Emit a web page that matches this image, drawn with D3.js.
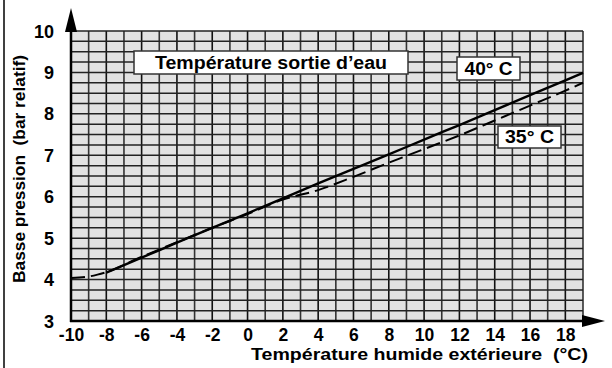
<!DOCTYPE html>
<html>
<head>
<meta charset="utf-8">
<script src="https://cdn.jsdelivr.net/npm/d3@7"></script>
<style>
  body { margin: 0; background: #fff; }
  svg text { font-family: "Liberation Sans", Arial, sans-serif; font-weight: bold; fill: #000; white-space: pre; }
</style>
</head>
<body>
<div id="chart"></div>
<script>
// outdoor wet bulb temperature (°C) / low pressure (bar rel.)
const temps40 = [-8, -6, -4, -2, 0, 2, 4, 6, 8, 10, 12, 14, 16, 18, 19];
const press40 = [4.17, 4.53, 4.89, 5.25, 5.60, 5.96, 6.32, 6.67, 7.02, 7.38, 7.73, 8.09, 8.45, 8.81, 8.99];
const temps35 = [-10, -9.2, -8.5, -8, -6, -4, -2, 0, 2, 4, 6, 8, 10, 12, 14, 16, 18, 19];
const press35 = [4.04, 4.06, 4.12, 4.18, 4.55, 4.90, 5.25, 5.58, 5.93, 6.16, 6.48, 6.82, 7.15, 7.48, 7.84, 8.20, 8.56, 8.75];
const xTicks = [-10, -8, -6, -4, -2, 0, 2, 4, 6, 8, 10, 12, 14, 16, 18];
const yTicks = [3, 4, 5, 6, 7, 8, 9, 10];

const W = 612, H = 368;
const x = d3.scaleLinear().domain([-10, 19]).range([71, 583]);
const y = d3.scaleLinear().domain([3, 10]).range([321, 31]);

const svg = d3.select("#chart").append("svg")
  .attr("width", W)
  .attr("height", H);

// frame line on the left
svg.append("line")
  .attr("x1", 4).attr("x2", 4).attr("y1", 0).attr("y2", H)
  .attr("stroke", "#000").attr("stroke-width", 1.5);

// plot background
svg.append("rect")
  .attr("x", x(-10)).attr("y", y(10))
  .attr("width", x(19) - x(-10)).attr("height", y(3) - y(10))
  .attr("fill", "#e2e2e2");

// grid
const vLines = d3.range(-9, 20);
svg.append("g").selectAll("line")
  .data(vLines)
  .enter().append("line")
  .attr("x1", d => x(d)).attr("x2", d => x(d))
  .attr("y1", y(10)).attr("y2", y(3))
  .attr("stroke", d => d % 2 === 0 ? "#111" : "#333")
  .attr("stroke-width", 1.6);

const hLines = d3.range(3.25, 10.01, 0.25);
svg.append("g").selectAll("line")
  .data(hLines)
  .enter().append("line")
  .attr("x1", x(-10)).attr("x2", x(19))
  .attr("y1", d => y(d)).attr("y2", d => y(d))
  .attr("stroke", "#222")
  .attr("stroke-width", 1.5);

// boxes
function labelBox(x0, y0, w, h, txt, size, baseline, len) {
  svg.append("rect")
    .attr("x", x0).attr("y", y0).attr("width", w).attr("height", h)
    .attr("fill", "#fff").attr("stroke", "#333").attr("stroke-width", 1.5);
  svg.append("text")
    .attr("x", x0 + w / 2).attr("y", baseline)
    .attr("text-anchor", "middle")
    .attr("textLength", len)
    .attr("lengthAdjust", "spacingAndGlyphs")
    .style("font-size", size + "px")
    .text(txt);
}
labelBox(134, 51, 274, 23, "Température sortie d’eau", 18, 69, 232);
labelBox(457, 57, 63, 23, "40° C", 19, 75, 48);
labelBox(498, 126, 63, 22, "35° C", 19, 143, 49);

// curves
const line = d3.line()
  .x(d => x(d[0]))
  .y(d => y(d[1]))
  .curve(d3.curveMonotoneX);

svg.append("path")
  .datum(temps35.map((t, i) => [t, press35[i]]))
  .attr("d", line)
  .attr("fill", "none")
  .attr("stroke", "#000")
  .attr("stroke-width", 2)
  .attr("stroke-dasharray", "14,6");

svg.append("path")
  .datum(temps40.map((t, i) => [t, press40[i]]))
  .attr("d", line)
  .attr("fill", "none")
  .attr("stroke", "#000")
  .attr("stroke-width", 2.4);

// axes lines + arrows
svg.append("line")
  .attr("x1", x(-10)).attr("x2", x(-10)).attr("y1", y(3) + 1).attr("y2", 30)
  .attr("stroke", "#000").attr("stroke-width", 2.5);
svg.append("line")
  .attr("x1", x(-10) - 1).attr("x2", 584).attr("y1", y(3)).attr("y2", y(3))
  .attr("stroke", "#000").attr("stroke-width", 2.5);
svg.append("path")
  .attr("d", "M" + x(-10) + ",8 L" + (x(-10) + 6) + ",32 L" + (x(-10) - 6) + ",32 Z")
  .attr("fill", "#000");
svg.append("path")
  .attr("d", "M605," + y(3) + " L582," + (y(3) - 6) + " L582," + (y(3) + 6) + " Z")
  .attr("fill", "#000");

// tick labels
const xAxis = d3.axisBottom(x).tickValues(xTicks).tickSize(0).tickPadding(0)
  .tickFormat(d => String(d));
const gx = svg.append("g")
  .attr("transform", "translate(0,341)")
  .call(xAxis);
gx.select(".domain").remove();
gx.selectAll("text")
  .attr("y", 0)
  .attr("dy", 0)
  .style("font-size", "17.5px");

const yAxis = d3.axisLeft(y).tickValues(yTicks).tickSize(0).tickPadding(0)
  .tickFormat(d => String(d));
const gy = svg.append("g")
  .attr("transform", "translate(54,0)")
  .call(yAxis);
gy.select(".domain").remove();
gy.selectAll("text")
  .attr("dy", "0.34em")
  .style("font-size", "18px");

// axis titles
svg.append("text")
  .attr("x", 588).attr("y", 360)
  .attr("text-anchor", "end")
  .attr("textLength", 337)
  .attr("lengthAdjust", "spacingAndGlyphs")
  .style("font-size", "16.5px")
  .text("Température humide extérieure  (°C)");

svg.append("text")
  .attr("transform", "translate(25,169) rotate(-90)")
  .attr("text-anchor", "middle")
  .attr("textLength", 228)
  .attr("lengthAdjust", "spacingAndGlyphs")
  .style("font-size", "16.5px")
  .text("Basse pression  (bar relatif)");
</script>
</body>
</html>
